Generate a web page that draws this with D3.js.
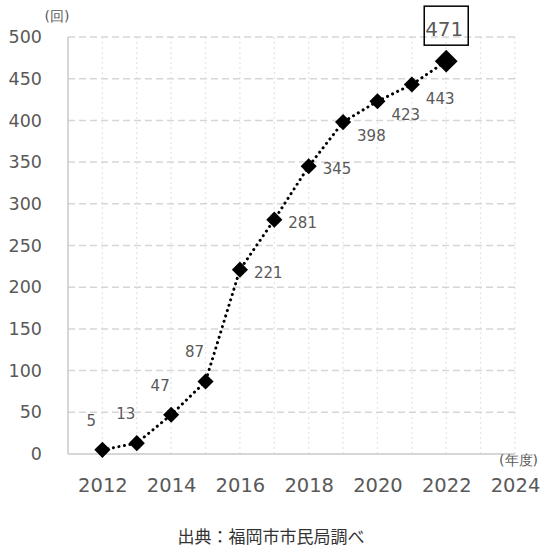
<!DOCTYPE html>
<html><head><meta charset="utf-8">
<script src="https://cdn.jsdelivr.net/npm/d3@7"></script>
<style>body{margin:0;background:#fff}svg{display:block}</style>
</head><body>
<svg id="c" width="541" height="550"></svg>
<script>
const years = [2012,2013,2014,2015,2016,2017,2018,2019,2020,2021,2022];
const counts = [5,13,47,87,221,281,345,398,423,443,471];
const labelSide = ["upleft","upleft","upleft","upleft","right","right","right","rightdown","rightdown","rightdown","boxed"];
const yTicks = [0,50,100,150,200,250,300,350,400,450,500];
const xTicks = [2012,2014,2016,2018,2020,2022,2024];
const yUnit = "(回)";
const xUnit = "(年度)";
const source = "出典：福岡市市民局調べ";

const svg = d3.select("#c");
const font = "'DejaVu Sans', Verdana, sans-serif";
const m = {l:68, r:515, t:37, b:454};
const x = d3.scaleLinear().domain([2011,2024]).range([m.l,m.r]);
const y = d3.scaleLinear().domain([0,500]).range([m.b,m.t]);
const grey = "#595959";

// vertical minor grid
svg.append("g").selectAll("line").data(d3.range(2012,2025)).join("line")
  .attr("x1",d=>x(d)).attr("x2",d=>x(d)).attr("y1",m.t).attr("y2",m.b)
  .attr("stroke","#e6e6e6").attr("stroke-width",1.3).attr("stroke-dasharray","2,3");
// horizontal grid
svg.append("g").selectAll("line").data(yTicks.filter(d=>d>0)).join("line")
  .attr("x1",m.l).attr("x2",m.r).attr("y1",d=>y(d)).attr("y2",d=>y(d))
  .attr("stroke","#d6d6d6").attr("stroke-width",1.5).attr("stroke-dasharray","7,4");
// axes lines
svg.append("line").attr("x1",m.l).attr("x2",m.l).attr("y1",m.t).attr("y2",m.b).attr("stroke","#c8c8c8").attr("stroke-width",1.5);
svg.append("line").attr("x1",m.l).attr("x2",m.r).attr("y1",m.b).attr("y2",m.b).attr("stroke","#c8c8c8").attr("stroke-width",1.5);

// y axis labels
const ya = svg.append("g").attr("transform",`translate(${m.l},0)`)
  .call(d3.axisLeft(y).tickValues(yTicks).tickSize(0).tickPadding(26));
ya.select(".domain").remove();
ya.selectAll("text").attr("font-family",font).attr("font-size",17.5).attr("fill",grey);

// x axis labels
const xa = svg.append("g").attr("transform",`translate(0,${m.b})`)
  .call(d3.axisBottom(x).tickValues(xTicks).tickFormat(d3.format("d")).tickSize(0).tickPadding(24));
xa.select(".domain").remove();
xa.selectAll("text").attr("font-family",font).attr("font-size",19.5).attr("fill",grey);

// units
svg.append("text").attr("x",57).attr("y",21).attr("text-anchor","middle").attr("font-family",font).attr("font-size",14).attr("fill",grey).text(yUnit);
svg.append("text").attr("x",538).attr("y",465).attr("text-anchor","end").attr("font-family",font).attr("font-size",14).attr("fill",grey).text(xUnit);

// line
const line = d3.line().x((d,i)=>x(years[i])).y(d=>y(d));
svg.append("path").datum(counts).attr("d",line).attr("fill","none")
  .attr("stroke","#000").attr("stroke-width",3).attr("stroke-dasharray","0.1,5.5").attr("stroke-linecap","round");

// markers
const sym = d3.symbol().type(d3.symbolSquare);
svg.append("g").selectAll("path").data(counts).join("path")
  .attr("transform",(d,i)=>`translate(${x(years[i])},${y(d)}) rotate(45)`)
  .attr("d",(d,i)=>sym.size(i===counts.length-1?260:130)())
  .attr("fill","#000");

// labels
const lab = svg.append("g").attr("font-family",font).attr("fill",grey);
counts.forEach((v,i)=>{
  const px=x(years[i]), py=y(v), s=labelSide[i];
  if(s==="upleft"){
    lab.append("text").attr("x",px-11).attr("y",py-24).attr("text-anchor","middle").attr("font-size",15).text(v);
  } else if(s==="right"){
    lab.append("text").attr("x",px+14).attr("y",py+8).attr("font-size",15).text(v);
  } else if(s==="rightdown"){
    lab.append("text").attr("x",px+14).attr("y",py+19).attr("font-size",15).text(v);
  } else {
    lab.append("text").attr("x",px-2).attr("y",py-25).attr("text-anchor","middle").attr("font-size",20).text(v);
    svg.append("rect").attr("x",px-22).attr("y",py-55).attr("width",44).attr("height",39)
      .attr("fill","none").attr("stroke","#000").attr("stroke-width",1.5);
  }
});

// source
svg.append("text").attr("x",271).attr("y",543).attr("text-anchor","middle").attr("font-family","'Noto Sans CJK JP', sans-serif").attr("font-size",17).attr("fill","#333").text(source);
</script>
</body></html>
